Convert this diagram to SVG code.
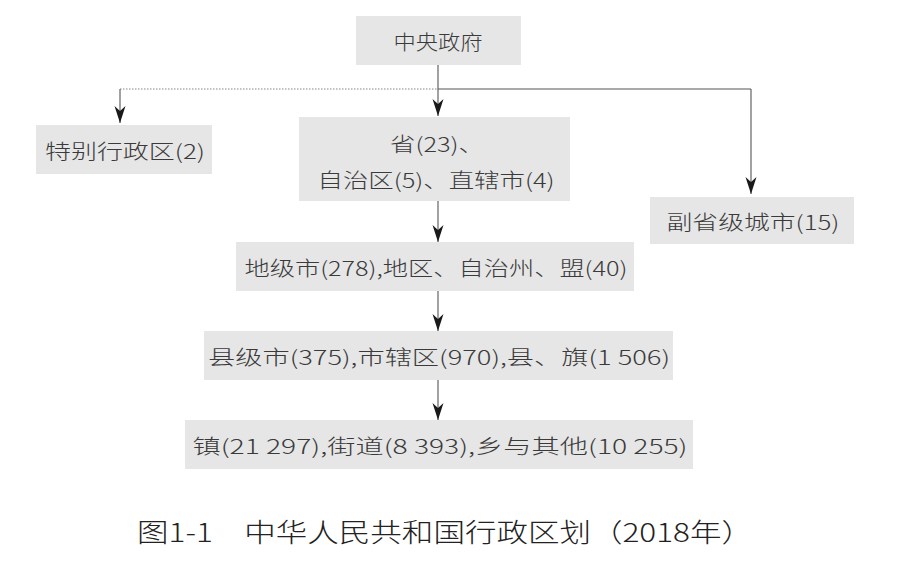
<svg xmlns="http://www.w3.org/2000/svg" width="904" height="568" viewBox="0 0 904 568">
<defs>
<style>
.box{fill:#e6e6e6;}
.t{font-family:"Noto Sans CJK SC","Liberation Sans",sans-serif;font-size:20px;font-weight:300;fill:#3a3a3a;text-anchor:middle;dominant-baseline:central;}
.cap{font-family:"Noto Sans CJK SC","Liberation Sans",sans-serif;font-size:26px;font-weight:300;fill:#222;text-anchor:middle;dominant-baseline:central;}
.ln{stroke:#555;stroke-width:1.1;fill:none;}
.dot{stroke:#888;stroke-width:1.1;stroke-dasharray:1.5 1.5;fill:none;}
</style>
<marker id="ad" markerWidth="12" markerHeight="18" refX="6" refY="17" orient="0" markerUnits="userSpaceOnUse" viewBox="0 0 12 18">
<path d="M0.5,0 L6,5 L11.5,0 L6,17 Z" fill="#1a1a1a"/>
</marker>
</defs>
<rect width="904" height="568" fill="#fff"/>
<g id="connectors">
<path class="dot" d="M120,89 H438"/>
<path class="ln" d="M438,89 H751"/>
<path class="ln" d="M120,89 V123" marker-end="url(#ad)"/>
<path class="ln" d="M438,65 V116" marker-end="url(#ad)"/>
<path class="ln" d="M751,89 V194" marker-end="url(#ad)"/>
<path class="ln" d="M438,201 V242" marker-end="url(#ad)"/>
<path class="ln" d="M438,291 V331" marker-end="url(#ad)"/>
<path class="ln" d="M438,380 V420" marker-end="url(#ad)"/>
</g>
<g id="central">
<rect class="box" x="356" y="16" width="165" height="49"/>
<text class="t" x="438" y="41" textLength="89" lengthAdjust="spacingAndGlyphs">中央政府</text>
</g>
<g id="sar">
<rect class="box" x="36" y="125" width="176" height="49"/>
<text class="t" x="125" y="150" textLength="160" lengthAdjust="spacingAndGlyphs">特别行政区(2)</text>
</g>
<g id="province">
<rect class="box" x="299" y="117" width="271" height="84"/>
<text class="t" x="437" y="143" textLength="94" lengthAdjust="spacingAndGlyphs">省(23)、</text>
<text class="t" x="436" y="179" textLength="237" lengthAdjust="spacingAndGlyphs">自治区(5)、直辖市(4)</text>
</g>
<g id="subprov">
<rect class="box" x="650" y="197" width="204" height="47"/>
<text class="t" x="753" y="221" textLength="173" lengthAdjust="spacingAndGlyphs">副省级城市(15)</text>
</g>
<g id="prefecture">
<rect class="box" x="236" y="242" width="398" height="49"/>
<text class="t" x="436" y="267" textLength="383" lengthAdjust="spacingAndGlyphs">地级市(278),地区、自治州、盟(40)</text>
</g>
<g id="county">
<rect class="box" x="204" y="331" width="469" height="49"/>
<text class="t" x="439" y="356" textLength="462" lengthAdjust="spacingAndGlyphs">县级市(375),市辖区(970),县、旗(1 506)</text>
</g>
<g id="township">
<rect class="box" x="185" y="420" width="508" height="49"/>
<text class="t" x="440" y="445" textLength="495" lengthAdjust="spacingAndGlyphs">镇(21 297),街道(8 393),乡与其他(10 255)</text>
</g>
<text class="cap" x="445" y="530" textLength="616" lengthAdjust="spacingAndGlyphs">图1-1　中华人民共和国行政区划（2018年）</text>
</svg>
